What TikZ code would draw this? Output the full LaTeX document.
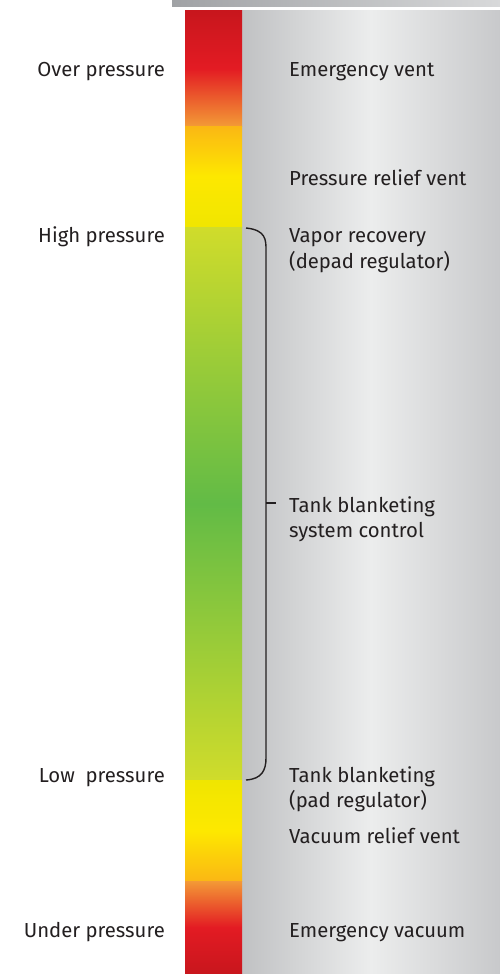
\documentclass[tikz,border=0pt]{standalone}
\usepackage{fontspec}
\setmainfont{Fira Sans}
\definecolor{txt}{HTML}{231F20}
\definecolor{redD}{HTML}{C8161D}
\definecolor{redM}{HTML}{E31B23}
\definecolor{orng}{HTML}{F39A36}
\definecolor{yelO}{HTML}{FBB714}
\definecolor{yelM}{HTML}{FDE800}
\definecolor{yelB}{HTML}{F0E600}
\definecolor{lime}{HTML}{D0DC2B}
\definecolor{grn}{HTML}{62BB46}
\definecolor{gryL}{HTML}{C0C1C3}
\definecolor{gryM}{HTML}{ECEDED}
\definecolor{gryR}{HTML}{C8C9CB}
\definecolor{barL}{HTML}{A0A2A5}
\definecolor{barR}{HTML}{D8D9DA}
\begin{document}
\begin{tikzpicture}[x=1pt,y=-1pt,
  lbl/.style={font=\fontsize{20.3}{25}\selectfont,text=txt,inner sep=0pt,align=left},
  leftlbl/.style={lbl,anchor=base east},
  rightlbl/.style={lbl,anchor=base west},
  brace/.style={draw=txt,line width=1.4pt}]
\useasboundingbox (0,0) rectangle (500,974);
\fill[white] (0,0) rectangle (500,974);
% top bar
\shade[left color=barL,right color=barR] (172,0) rectangle (500,7);
% gray panel
\shade[left color=gryL,right color=gryR,middle color=gryM] (241.5,11) rectangle (500,974);
% colour scale
\shade[top color=redD,bottom color=orng,middle color=redM] (185,11) rectangle (242,126);
\shade[top color=yelO,bottom color=yelB,middle color=yelM] (185,126) rectangle (242,227);
\shade[top color=lime,bottom color=lime,middle color=grn] (185,227) rectangle (242,780.5);
\shade[top color=yelB,bottom color=yelO,middle color=yelM] (185,780.5) rectangle (242,881);
\shade[top color=orng,bottom color=redD,middle color=redM] (185,881) rectangle (242,974);
% left labels
\node[leftlbl] (over)  at (165,76)  {Over pressure};
\node[leftlbl] (high)  at (165,242) {High pressure};
\node[leftlbl] (low)   at (165,782) {Low\ \ pressure};
\node[leftlbl] (under) at (165,937) {Under pressure};
% right labels
\node[rightlbl] (ev)  at (289,76)  {Emergency vent};
\node[rightlbl] (prv) at (289,185) {Pressure relief vent};
\node[rightlbl] (vr)  at (289,242) {Vapor recovery};
\node[rightlbl] (vr2) at (289,268) {(depad regulator)};
\node[rightlbl] (tb)  at (289,512) {Tank blanketing};
\node[rightlbl] (tb2) at (289,537) {system control};
\node[rightlbl] (pb)  at (289,782) {Tank blanketing};
\node[rightlbl] (pb2) at (289,807) {(pad regulator)};
\node[rightlbl] (vac) at (289,843) {Vacuum relief vent};
\node[rightlbl] (emv) at (289,937) {Emergency vacuum};
% brace
\coordinate (bt) at (246,228);
\coordinate (bb) at (246,780);
\coordinate (tk) at (276,503);
\coordinate (tm) at (266,503);
\draw[brace] (bt) .. controls (266,230) and (266,240) .. (266,250) -- (266,758) .. controls (266,770) and (262,779) .. (bb);
\draw[brace] (tm) -- (tk);
\end{tikzpicture}
\end{document}
